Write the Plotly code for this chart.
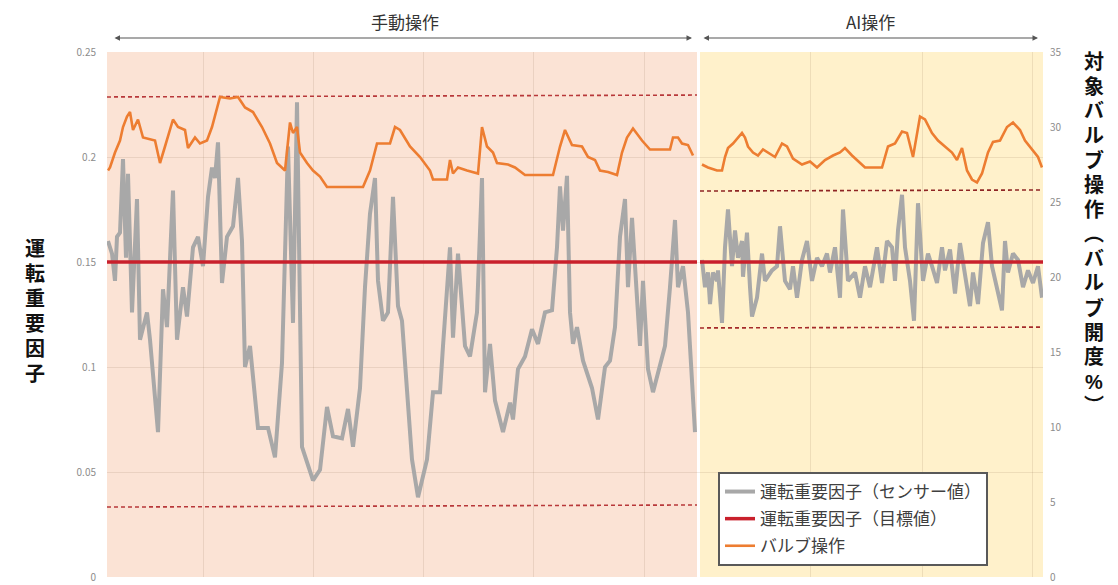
import plotly.graph_objects as go

# ---------------- data ----------------
# time index (arbitrary units), manual operation segment then AI operation segment
sensor_t_manual = [1, 5, 8, 10, 13, 16, 19, 21, 25, 30, 33, 40, 43, 51, 56, 60, 66, 70, 76, 80, 86, 91, 96, 101, 105,
                   108, 111, 115, 120, 126, 131, 135, 138, 143, 151, 161, 168, 175, 181, 186, 190, 195, 206, 213, 220,
                   226, 235, 241, 246, 253, 258, 263, 268, 271, 276, 281, 286, 291, 295, 300, 305, 311, 320, 326, 333,
                   336, 343, 346, 351, 358, 363, 370, 375, 378, 383, 388, 396, 403, 406, 411, 418, 425, 431, 438, 445,
                   450, 453, 456, 460, 463, 466, 470, 476, 485, 491, 498, 503, 508, 513, 518, 521, 525, 528, 533, 536,
                   541, 546, 553, 558, 563, 568, 571, 576, 581, 588]
sensor_v_manual = [0.160, 0.154, 0.141, 0.162, 0.164, 0.199, 0.152, 0.192, 0.126, 0.180, 0.113, 0.126, 0.113, 0.069,
                   0.137, 0.119, 0.184, 0.113, 0.138, 0.124, 0.157, 0.162, 0.148, 0.181, 0.195, 0.190, 0.207, 0.140,
                   0.162, 0.167, 0.190, 0.160, 0.100, 0.110, 0.071, 0.071, 0.057, 0.102, 0.205, 0.121, 0.226, 0.062,
                   0.046, 0.051, 0.081, 0.067, 0.066, 0.080, 0.062, 0.090, 0.138, 0.173, 0.190, 0.141, 0.122, 0.126,
                   0.181, 0.129, 0.122, 0.086, 0.056, 0.038, 0.056, 0.088, 0.088, 0.110, 0.157, 0.114, 0.154, 0.110,
                   0.105, 0.126, 0.190, 0.088, 0.111, 0.084, 0.069, 0.083, 0.075, 0.099, 0.105, 0.118, 0.111, 0.126,
                   0.127, 0.157, 0.186, 0.165, 0.191, 0.126, 0.111, 0.119, 0.103, 0.090, 0.075, 0.100, 0.103, 0.119,
                   0.162, 0.180, 0.138, 0.171, 0.145, 0.110, 0.141, 0.099, 0.088, 0.102, 0.110, 0.138, 0.170, 0.138,
                   0.148, 0.126, 0.069]
sensor_t_ai = [595, 598, 601, 603, 606, 610, 611, 615, 618, 621, 625, 628, 631, 635, 636, 640, 643, 645, 650, 655, 658,
               665, 670, 673, 678, 683, 686, 690, 695, 700, 705, 710, 715, 720, 723, 728, 733, 736, 741, 748, 753, 758,
               763, 770, 775, 780, 785, 788, 791, 795, 798, 803, 807, 811, 816, 821, 825, 830, 835, 838, 843, 848, 853,
               858, 863, 866, 871, 876, 881, 885, 890, 895, 898, 901, 906, 911, 916, 921, 926, 931, 935]
sensor_v_ai = [0.151, 0.138, 0.145, 0.130, 0.145, 0.141, 0.146, 0.121, 0.157, 0.175, 0.148, 0.165, 0.152, 0.160, 0.143,
               0.164, 0.138, 0.124, 0.133, 0.154, 0.141, 0.146, 0.148, 0.167, 0.141, 0.137, 0.148, 0.133, 0.151, 0.160,
               0.141, 0.152, 0.148, 0.154, 0.145, 0.157, 0.133, 0.175, 0.141, 0.145, 0.133, 0.148, 0.138, 0.157, 0.140,
               0.160, 0.157, 0.141, 0.165, 0.182, 0.157, 0.141, 0.122, 0.178, 0.141, 0.154, 0.148, 0.140, 0.157, 0.146,
               0.156, 0.135, 0.159, 0.145, 0.129, 0.145, 0.130, 0.159, 0.169, 0.148, 0.137, 0.127, 0.160, 0.145, 0.154,
               0.151, 0.138, 0.146, 0.140, 0.148, 0.133]

valve_t_manual = [1, 3, 8, 13, 16, 20, 23, 26, 31, 36, 48, 53, 58, 63, 66, 71, 78, 81, 88, 93, 100, 105, 110, 113, 123,
                  131, 138, 146, 155, 163, 170, 178, 183, 186, 190, 193, 200, 206, 213, 220, 256, 263, 270, 283, 288,
                  293, 303, 313, 323, 326, 340, 343, 346, 351, 360, 371, 375, 380, 386, 390, 401, 408, 418, 446, 453,
                  458, 465, 475, 481, 488, 493, 501, 510, 515, 520, 526, 535, 543, 563, 566, 571, 575, 581, 586]
valve_v_manual = [27.1, 27.3, 28.3, 29.1, 30.0, 30.7, 31.0, 29.8, 30.5, 29.3, 29.1, 27.6, 28.7, 29.8, 30.5, 30.0, 29.8,
                  28.6, 29.3, 28.9, 29.1, 30.0, 31.3, 32.0, 31.9, 32.0, 31.3, 31.0, 30.0, 28.9, 27.6, 27.1, 30.3, 29.6,
                  30.0, 28.3, 27.6, 27.1, 26.7, 26.0, 26.0, 27.1, 28.9, 28.9, 30.0, 29.8, 28.7, 28.0, 27.1, 26.5, 26.5,
                  27.8, 26.9, 27.3, 27.1, 26.9, 30.0, 28.7, 28.3, 27.6, 27.5, 27.3, 26.8, 26.8, 28.7, 29.8, 28.8, 28.7,
                  28.0, 27.8, 27.1, 27.0, 26.8, 28.3, 29.3, 29.9, 29.1, 28.5, 28.5, 29.3, 29.3, 28.9, 28.8, 28.1]
valve_t_ai = [595, 601, 610, 615, 618, 621, 626, 631, 635, 638, 641, 646, 651, 656, 661, 668, 675, 680, 686, 695, 703,
              710, 718, 726, 733, 738, 745, 751, 758, 768, 775, 781, 788, 795, 800, 806, 813, 818, 825, 831, 838, 845,
              850, 855, 860, 865, 870, 875, 881, 886, 893, 900, 906, 913, 918, 925, 931, 935]
valve_v_ai = [27.5, 27.3, 27.1, 27.1, 28.0, 28.6, 28.9, 29.3, 29.6, 29.3, 28.7, 28.3, 28.1, 28.5, 28.3, 28.0, 28.9, 28.7,
              27.9, 27.5, 27.7, 27.3, 27.8, 28.1, 28.3, 28.6, 28.1, 27.7, 27.3, 27.3, 27.3, 28.7, 28.9, 29.7, 29.6, 28.0,
              30.7, 30.5, 29.6, 29.1, 28.7, 28.3, 27.8, 28.6, 27.1, 26.5, 26.3, 26.9, 28.3, 29.0, 29.1, 30.0, 30.3, 29.8,
              29.1, 28.5, 28.0, 27.3]

target_value = 0.15
manual_span = [0, 590]
ai_span = [593, 936]
manual_upper = [0.2286, 0.2295]
manual_lower = [0.0333, 0.0343]
ai_upper = [0.1838, 0.1843]
ai_lower = [0.1186, 0.1190]

left_ticks = [0, 0.05, 0.1, 0.15, 0.2, 0.25]
left_ticktext = ["0", "0.05", "0.1", "0.15", "0.2", "0.25"]
right_ticks = [0, 5, 10, 15, 20, 25, 30, 35]
grid_x = [96, 206, 316, 426, 537, 703, 815, 925]

legend_names = ["運転重要因子（センサー値）", "運転重要因子（目標値）", "バルブ操作"]
section_labels = ["手動操作", "AI操作"]
left_title = "運転重要因子"
right_title = "対象バルブ操作︵バルブ開度%︶"

FONT = "Noto Sans CJK JP"
TITLE_FONT = "Liberation Sans, Noto Sans CJK JP"
GRAY = "#A8A8A8"
RED = "#C9202C"
ORANGE = "#ED7D31"

W, H = 1118, 585
L, R, T, B = 107, 75, 52, 8
pw, ph = W - L - R, H - T - B


def px_x(x):
    return (x - L) / pw


def px_y(y):
    return (H - B - y) / ph


fig = go.Figure()

# bounds (dashed)
for span, vals, col in [(manual_span, manual_upper, "#B8383A"), (manual_span, manual_lower, "#B8383A"),
                        (ai_span, ai_upper, "#8E2424"), (ai_span, ai_lower, "#A52A2A")]:
    fig.add_trace(go.Scatter(x=span, y=vals, mode="lines", showlegend=False, hoverinfo="skip",
                             line=dict(color=col, width=1.6, dash="4px,3px")))

# sensor
fig.add_trace(go.Scatter(x=sensor_t_manual + [None] + sensor_t_ai, y=sensor_v_manual + [None] + sensor_v_ai,
                         mode="lines", name=legend_names[0], legendgroup="a", connectgaps=False,
                         line=dict(color=GRAY, width=4)))
# target
fig.add_trace(go.Scatter(x=manual_span + [None] + ai_span,
                         y=[target_value, target_value, None, target_value, target_value],
                         mode="lines", name=legend_names[1], legendgroup="b", connectgaps=False,
                         line=dict(color=RED, width=3.5)))
# valve
fig.add_trace(go.Scatter(x=valve_t_manual + [None] + valve_t_ai, y=valve_v_manual + [None] + valve_v_ai,
                         mode="lines", name=legend_names[2], legendgroup="c", connectgaps=False, yaxis="y2",
                         line=dict(color=ORANGE, width=2.6)))

# background regions
fig.add_shape(type="rect", xref="x", yref="paper", x0=manual_span[0], x1=manual_span[1], y0=0, y1=1,
              fillcolor="#FBE3D5", line_width=0, layer="below")
fig.add_shape(type="rect", xref="x", yref="paper", x0=ai_span[0], x1=ai_span[1], y0=0, y1=1,
              fillcolor="#FFF1CB", line_width=0, layer="below")

# section labels and arrows
ann = []
ann.append(dict(text=section_labels[0], x=298, y=px_y(22), xref="x", yref="paper", showarrow=False,
                font=dict(size=17, color="#333333", family=FONT), xanchor="center", yanchor="middle"))
ann.append(dict(text=section_labels[1], x=763, y=px_y(22), xref="x", yref="paper", showarrow=False,
                font=dict(size=17, color="#333333", family=FONT), xanchor="center", yanchor="middle"))
for x0, x1 in [(6, 585), (595, 931)]:
    ann.append(dict(text="", x=x1, y=px_y(38), xref="x", yref="paper", ax=x0, ay=0, axref="x", ayref="pixel",
                    showarrow=True, arrowhead=2, arrowside="end+start", arrowsize=1, arrowwidth=1.1,
                    arrowcolor="#555555", standoff=0, startstandoff=0))

# axis titles: vertical writing, one character per line
for i, ch in enumerate(left_title):
    ann.append(dict(text="<b>" + ch + "</b>", x=px_x(35), y=px_y(249 + 25 * i), xref="paper", yref="paper",
                    showarrow=False, xanchor="center", yanchor="middle", borderpad=0,
                    font=dict(size=20, color="#111111", family=TITLE_FONT)))
for i, ch in enumerate(right_title):
    ann.append(dict(text="<b>" + ch + "</b>", x=px_x(1094), y=px_y(62 + 24.6 * i), xref="paper", yref="paper",
                    showarrow=False, xanchor="center", yanchor="middle", borderpad=0,
                    font=dict(size=20, color="#111111", family=TITLE_FONT)))

fig.update_layout(
    width=W, height=H,
    margin=dict(l=L, r=R, t=T, b=B, autoexpand=False),
    paper_bgcolor="white", plot_bgcolor="white",
    font=dict(family=FONT, color="#404040"),
    xaxis=dict(range=[0, 936], showticklabels=False, tickvals=grid_x, showgrid=True, automargin=False,
               gridcolor="rgba(120,90,60,0.13)", gridwidth=1, zeroline=False, showline=False, ticks=""),
    yaxis=dict(range=[0, 0.25], tickvals=left_ticks, ticktext=left_ticktext, showgrid=True, automargin=False,
               gridcolor="rgba(120,90,60,0.13)", zeroline=False, showline=False,
               tickfont=dict(size=10, color="#8C8C8C", family=FONT), ticklabelstandoff=10),
    yaxis2=dict(range=[0, 35], tickvals=right_ticks, overlaying="y", side="right", showgrid=False,
                automargin=False, zeroline=False, showline=False,
                tickfont=dict(size=10, color="#8C8C8C", family=FONT), ticklabelstandoff=6),
    legend=dict(x=px_x(718), y=px_y(566), xanchor="left", yanchor="bottom",
                bgcolor="white", bordercolor="#595959", borderwidth=2,
                font=dict(size=17, color="#404040", family=FONT),
                traceorder="grouped", tracegroupgap=2, itemwidth=30),
    annotations=ann,
    showlegend=True,
)

fig.write_html("out.html", config={"displayModeBar": False}, post_script="document.body.style.margin='0';")
